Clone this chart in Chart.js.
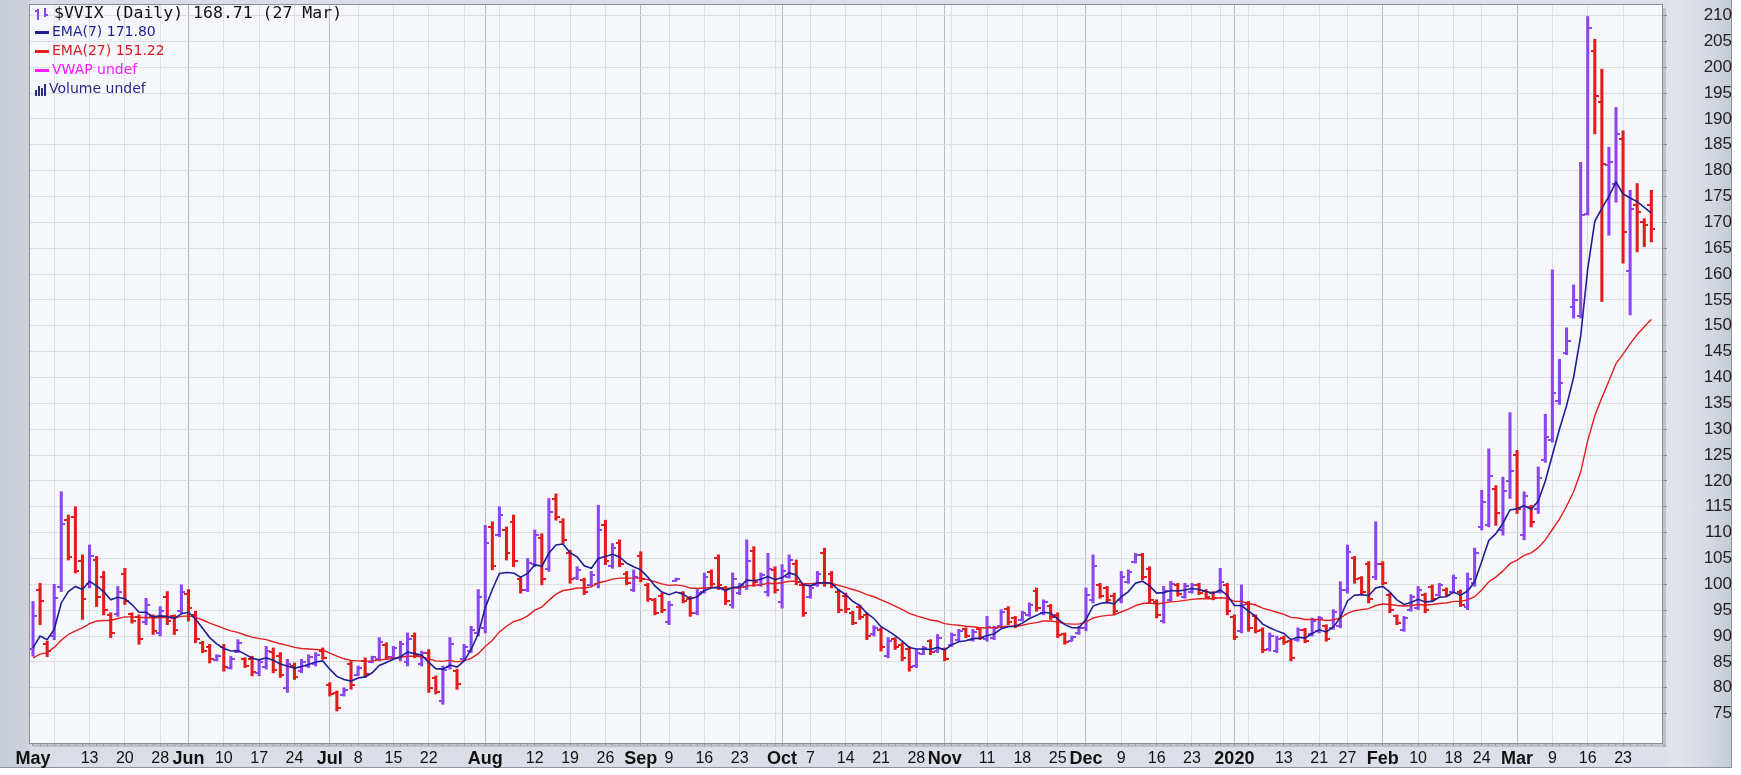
<!DOCTYPE html>
<html lang="en">
<head>
  <meta charset="UTF-8">
  <title>$VVIX (Daily)</title>
  <script src="https://cdn.jsdelivr.net/npm/chart.js"></script>
  <style>
    html, body { margin: 0; padding: 0; background: #fff; overflow: hidden; }
    #frame {
      position: absolute; left: 0; top: 0; width: 1731px; height: 767px;
      background: linear-gradient(to right, #c8ccd6 0, #cdd1db 29px, #dadde5 31px, #dde0e8 1662px, #e2e5ec 1675px, #d4d8e1 1710px, #c6cad4 1731px);
      border-right: 1px solid #8d929c; border-bottom: 1px solid #8d929c;
    }
    #wrap { position: absolute; left: 0; top: 0; width: 1741px; height: 775px; }
    #legend { position: absolute; left: 35px; top: 3px; font-family: "DejaVu Sans", sans-serif; font-size: 14px; }
    #legend .row { height: 19px; line-height: 19px; white-space: nowrap; }
    #legend .title { font-family: "DejaVu Sans Mono", monospace; font-size: 16.5px; color: #111; }
    .dash { display: inline-block; width: 14px; height: 3px; vertical-align: middle; margin-right: 3px; }
    .ico { display: inline-block; width: 15px; height: 13px; vertical-align: middle; margin-right: 4px; position: relative; }
    .ico i { position: absolute; bottom: 0; width: 2px; }
  </style>
</head>
<body>
  <div id="frame"></div>
  <div id="wrap"><canvas id="vvixChart"></canvas></div>
  <div id="legend">
    <div class="row title"><span class="ico"><i style="left:2px;height:11px;background:#8b46f2"></i><i style="left:0;width:3px;height:2px;bottom:8px;background:#8b46f2"></i><i style="left:9px;height:9px;bottom:3px;background:#8b46f2"></i><i style="left:10px;width:3px;height:2px;bottom:4px;background:#8b46f2"></i></span><span id="lg0"></span></div>
    <div class="row" style="color:#1f1f94"><span class="dash" style="background:#1f1f94"></span><span id="lg1"></span></div>
    <div class="row" style="color:#d81b1b"><span class="dash" style="background:#e01f1f"></span><span id="lg2"></span></div>
    <div class="row" style="color:#ff1cff"><span class="dash" style="background:#ff1cff"></span><span>VWAP undef</span></div>
    <div class="row" style="color:#2b2b86"><span class="ico" style="width:12px;margin-right:2px"><i style="left:0;height:6px;background:#2b2b86"></i><i style="left:3px;height:10px;background:#2b2b86"></i><i style="left:6px;height:8px;background:#2b2b86"></i><i style="left:9px;height:12px;background:#2b2b86"></i></span><span>Volume undef</span></div>
  </div>

  <script>
    // daily bars, 1 May 2019 .. 27 Mar 2020 (index = trading day)
    const lastDate = '27 Mar';

    const opens = [
      87.5, 99.0, 88.5, 90.0, 99.5, 112.5, 113.0, 104.5, 100.0, 104.8,
      101.5, 94.0, 94.2, 102.0, 94.2, 93.6, 92.8, 93.8, 90.5, 97.5,
      93.8, 94.8, 98.2, 94.0, 88.7, 87.8, 85.4, 87.9, 83.9, 87.0,
      85.5, 85.6, 82.8, 84.0, 87.0, 86.2, 80.0, 84.2, 83.2, 84.3,
      84.6, 87.2, 80.6, 79.0, 78.6, 84.5, 82.5, 85.2, 85.0, 85.6,
      88.2, 86.0, 85.8, 85.0, 90.0, 84.5, 86.8, 81.8, 77.5, 84.0,
      83.2, 85.6, 87.2, 90.5, 91.5, 111.0, 109.6, 110.5, 112.0, 101.0,
      99.0, 104.0, 109.0, 103.0, 116.5, 112.0, 106.0, 101.2, 100.8, 99.8,
      100.0, 111.5, 103.5, 108.0, 102.0, 99.0, 105.5, 99.8, 97.0, 97.8,
      92.8, 100.7, 98.3, 97.2, 94.5, 98.6, 102.4, 105.0, 99.2, 96.0,
      98.3, 99.5, 106.5, 99.9, 98.5, 102.8, 96.5, 101.5, 104.0, 99.8,
      97.6, 99.8, 106.0, 102.0, 98.5, 97.8, 94.5, 95.6, 94.0, 90.3,
      91.2, 86.2, 89.4, 88.3, 87.5, 84.2, 86.6, 89.0, 87.2, 87.4,
      88.3, 89.3, 91.3, 89.3, 91.3, 89.5, 89.6, 92.0, 95.3, 93.5,
      93.1, 94.1, 98.8, 94.4, 95.8, 94.0, 90.3, 89.1, 90.5, 91.5,
      97.0, 99.8, 99.2, 97.8, 97.0, 100.5, 104.3, 105.6, 103.0, 96.6,
      93.0, 97.0, 99.9, 97.6, 98.5, 99.9, 98.7, 98.3, 98.6, 99.8,
      93.6, 91.0, 96.2, 93.8, 91.2, 87.4, 87.1, 89.7, 89.0, 89.3,
      91.2, 90.3, 90.9, 91.9, 91.6, 92.0, 99.0, 105.0, 101.2, 103.9,
      101.5, 104.0, 98.0, 93.9, 91.2, 95.1, 95.5, 98.0, 99.5, 98.0,
      99.0, 98.6, 98.5, 95.6, 100.2, 111.0, 111.5, 118.5, 110.5, 120.0,
      125.0, 109.5, 115.0, 114.5, 124.0, 128.0, 135.5, 144.8, 153.7, 151.8,
      171.6, 203.1, 193.2, 181.0, 177.5, 186.1, 160.5, 173.3, 170.1, 173.3
    ];

    const highs = [
      96.7, 100.2, 89.0, 100.0, 117.9, 113.4, 115.0, 105.7, 107.6, 105.4,
      102.5, 94.5, 99.6, 103.1, 94.5, 94.1, 97.3, 94.1, 95.7, 98.6,
      94.1, 99.9, 99.0, 94.8, 89.0, 88.4, 86.4, 88.4, 86.1, 89.3,
      85.8, 86.1, 85.5, 88.0, 87.7, 86.8, 85.5, 84.8, 85.5, 86.4,
      86.8, 87.7, 81.0, 79.4, 80.0, 85.2, 84.2, 85.8, 86.1, 89.7,
      88.7, 88.0, 89.0, 90.6, 90.6, 87.1, 87.4, 82.3, 84.2, 89.7,
      83.6, 88.4, 91.9, 99.0, 111.4, 112.1, 115.0, 111.1, 113.4, 101.5,
      105.0, 110.5, 109.8, 116.6, 117.5, 112.7, 106.6, 103.4, 101.2, 102.5,
      115.3, 112.4, 107.9, 108.6, 102.5, 102.8, 106.3, 100.2, 97.3, 98.3,
      96.7, 101.2, 98.6, 97.7, 99.0, 102.2, 102.8, 105.7, 99.6, 102.2,
      100.2, 108.6, 107.3, 102.2, 106.0, 103.4, 103.8, 105.7, 104.7, 100.2,
      99.6, 102.5, 107.0, 102.5, 99.0, 98.3, 94.8, 96.0, 94.5, 92.0,
      91.6, 89.7, 89.7, 88.7, 88.0, 87.4, 88.0, 89.3, 90.3, 87.7,
      90.6, 91.3, 91.6, 91.3, 91.6, 93.8, 91.9, 95.1, 95.7, 93.8,
      94.8, 96.4, 99.3, 97.0, 96.1, 94.5, 90.6, 90.0, 91.9, 99.3,
      105.7, 100.2, 99.6, 98.3, 102.5, 102.8, 106.0, 106.0, 103.4, 97.0,
      99.6, 100.6, 100.2, 100.2, 100.2, 100.2, 99.0, 98.6, 103.1, 100.2,
      94.1, 99.9, 96.7, 94.1, 91.6, 90.6, 90.0, 90.0, 89.3, 91.6,
      91.5, 93.5, 93.8, 92.2, 95.1, 100.5, 107.6, 105.4, 101.5, 104.4,
      112.1, 104.4, 98.3, 94.1, 93.8, 98.0, 99.6, 98.3, 99.9, 100.2,
      99.3, 101.8, 98.9, 102.2, 107.0, 118.2, 126.2, 119.1, 120.7, 133.2,
      125.9, 117.9, 115.3, 122.7, 132.9, 160.8, 143.5, 149.6, 157.9, 181.6,
      209.8, 205.4, 199.6, 184.5, 192.2, 187.7, 176.2, 177.5, 170.7, 176.2
    ];

    const lows = [
      86.1, 92.2, 86.0, 89.3, 98.6, 104.7, 102.2, 93.2, 99.3, 95.7,
      94.1, 89.7, 93.8, 96.1, 92.5, 88.4, 92.2, 90.3, 90.0, 92.2,
      90.3, 94.5, 92.9, 88.7, 86.8, 84.8, 85.2, 83.2, 83.6, 86.8,
      83.9, 82.3, 82.3, 83.6, 82.9, 82.0, 79.1, 81.6, 82.9, 83.9,
      84.2, 85.5, 78.4, 75.5, 78.4, 79.7, 82.3, 82.0, 84.8, 85.2,
      85.5, 85.8, 85.2, 84.2, 85.8, 84.2, 79.1, 78.8, 76.8, 83.6,
      79.7, 85.2, 86.8, 90.0, 90.6, 102.8, 109.2, 104.7, 103.4, 98.3,
      98.6, 103.4, 99.9, 102.5, 112.4, 107.9, 100.2, 100.9, 98.0, 99.6,
      99.3, 103.8, 103.1, 103.4, 99.9, 98.6, 100.5, 96.7, 94.1, 94.5,
      92.2, 100.6, 96.4, 93.8, 94.1, 98.3, 99.6, 99.0, 96.1, 95.4,
      98.0, 99.0, 99.6, 99.6, 97.7, 98.3, 95.4, 101.2, 99.9, 93.8,
      97.3, 99.6, 99.6, 99.3, 94.5, 94.5, 92.2, 93.2, 89.3, 90.0,
      87.1, 85.8, 87.4, 85.2, 83.2, 83.9, 86.4, 86.4, 86.8, 85.2,
      88.0, 89.0, 89.7, 89.0, 89.3, 89.0, 89.3, 91.6, 92.2, 91.6,
      92.9, 93.8, 94.8, 94.1, 93.2, 89.7, 88.4, 89.0, 90.3, 91.0,
      96.4, 97.3, 96.4, 94.1, 96.4, 100.2, 104.1, 100.9, 96.4, 93.5,
      92.5, 96.7, 97.7, 97.3, 98.3, 98.0, 97.3, 97.0, 98.3, 94.1,
      89.3, 90.6, 90.9, 90.6, 86.8, 87.1, 86.8, 88.4, 85.2, 89.0,
      88.7, 90.0, 90.6, 89.0, 91.3, 91.6, 98.3, 100.2, 98.0, 96.4,
      100.9, 99.9, 94.5, 92.2, 90.9, 94.8, 95.1, 94.5, 96.7, 97.7,
      97.7, 98.3, 95.7, 95.1, 99.6, 110.5, 111.1, 111.4, 109.5, 116.6,
      113.7, 108.6, 111.1, 113.7, 123.6, 127.5, 134.8, 144.4, 151.5, 151.5,
      171.4, 187.1, 154.7, 167.5, 173.9, 162.1, 152.1, 164.3, 165.3, 166.2
    ];

    const closes = [
      93.8, 96.8, 87.2, 97.3, 111.7, 105.2, 102.6, 97.2, 105.4, 97.5,
      95.0, 90.5, 98.5, 96.8, 93.0, 89.5, 96.0, 91.0, 94.8, 93.0,
      91.2, 98.5, 95.5, 89.5, 87.2, 85.5, 86.1, 84.0, 85.6, 88.6,
      84.2, 83.0, 84.9, 87.2, 83.5, 82.5, 84.5, 82.0, 85.0, 85.9,
      86.3, 85.8, 78.8, 76.0, 79.6, 80.5, 83.8, 82.6, 85.9, 88.8,
      86.0, 87.6, 88.4, 89.5, 86.4, 86.8, 80.0, 79.2, 83.5, 88.5,
      80.8, 87.8, 91.2, 97.5, 108.0, 103.5, 113.5, 106.0, 104.5, 99.0,
      104.2, 109.5, 101.0, 114.0, 113.0, 108.5, 101.0, 102.8, 98.5, 101.8,
      110.5, 104.5, 107.0, 104.0, 100.3, 101.5, 101.0, 97.2, 94.5, 95.0,
      96.0, 101.1, 96.8, 94.5, 98.3, 101.5, 100.0, 99.8, 96.8, 101.0,
      99.8, 104.5, 100.5, 101.8, 103.0, 99.0, 102.5, 104.8, 100.5, 94.5,
      99.2, 102.0, 100.2, 99.8, 95.0, 95.2, 92.6, 93.6, 90.0, 91.6,
      87.8, 89.0, 87.8, 85.8, 84.0, 86.8, 87.6, 86.9, 89.6, 85.6,
      90.2, 90.9, 90.0, 90.8, 89.7, 91.8, 91.5, 94.6, 92.8, 92.0,
      94.5, 96.0, 95.5, 96.6, 93.6, 90.2, 88.8, 89.8, 91.6, 98.0,
      103.5, 97.8, 97.0, 94.8, 101.5, 102.3, 105.6, 101.5, 97.0, 94.0,
      98.8, 100.0, 98.2, 99.7, 99.9, 98.4, 97.6, 97.3, 100.5, 94.8,
      89.8, 96.0, 91.5, 91.0, 87.3, 90.0, 89.4, 88.8, 85.8, 91.2,
      89.0, 93.0, 93.4, 89.5, 94.6, 99.0, 106.2, 101.0, 98.5, 97.2,
      104.0, 100.3, 95.0, 92.6, 93.5, 97.6, 99.0, 95.0, 97.1, 99.8,
      98.0, 101.2, 96.1, 101.0, 106.0, 116.0, 121.0, 113.7, 118.0, 122.0,
      114.5, 117.0, 112.0, 120.5, 128.5, 137.0, 139.0, 147.0, 155.0, 171.4,
      207.6, 194.5, 181.3, 181.6, 187.1, 168.2, 172.5, 171.9, 169.5, 168.71
    ];

    const ema7 = [
      87.7, 90.0, 89.3, 91.3, 96.4, 98.6, 99.6, 99.0, 100.6, 99.7,
      98.6, 97.0, 97.5, 97.2, 96.1, 94.6, 94.6, 93.7, 93.9, 93.8,
      93.4, 94.3, 94.6, 93.3, 91.5, 89.7, 88.5, 87.6, 87.1, 87.2,
      86.5, 85.7, 85.4, 85.8, 85.3, 84.6, 84.2, 83.8, 84.1, 84.5,
      85.0, 85.2, 83.6, 82.2, 81.6, 81.3, 81.9, 82.1, 82.9, 84.3,
      84.9, 85.5, 86.0, 86.9, 86.6, 86.3, 84.9, 83.7, 83.6, 84.4,
      84.0, 85.2, 87.4, 90.4, 95.5, 99.0, 102.1, 102.3, 102.2, 101.4,
      102.1, 103.8, 103.5, 106.0, 107.6, 107.8, 106.1, 105.3, 103.6, 103.1,
      105.0, 105.4, 105.8, 105.3, 104.1, 103.4, 102.8, 101.4, 99.7, 98.5,
      98.0, 98.5, 98.1, 97.2, 97.6, 98.8, 99.3, 99.4, 98.8, 99.4,
      99.5, 100.8, 100.7, 101.0, 101.5, 100.9, 101.3, 102.2, 101.8, 99.9,
      99.7, 100.3, 100.3, 100.2, 98.9, 98.0, 96.7, 95.9, 94.4, 93.4,
      91.8, 91.0, 90.1, 89.0, 87.8, 87.5, 87.5, 87.4, 87.8, 87.3,
      88.3, 88.9, 89.1, 89.5, 89.6, 90.1, 90.4, 91.4, 91.8, 91.9,
      92.5, 93.4, 94.0, 94.6, 94.4, 93.3, 92.2, 91.6, 91.6, 93.2,
      95.8, 96.3, 96.5, 96.2, 97.6, 98.6, 100.2, 100.6, 99.7, 98.3,
      98.4, 98.8, 98.7, 98.9, 99.2, 99.0, 98.6, 98.3, 98.9, 97.9,
      95.9, 95.9, 94.8, 93.8, 92.3, 91.6, 91.0, 90.5, 89.3, 89.8,
      89.6, 90.5, 91.2, 90.8, 91.7, 93.6, 96.8, 97.9, 98.0, 97.8,
      99.3, 99.6, 98.5, 97.0, 96.1, 96.5, 97.1, 96.6, 96.7, 97.5,
      97.6, 98.5, 97.9, 98.7, 100.5, 104.4, 108.5, 109.8, 111.8, 114.4,
      114.6, 115.2, 114.5, 116.1, 120.0, 125.0, 130.0, 134.5, 140.0, 148.0,
      161.0, 170.2, 172.7, 175.0, 177.8, 175.5, 174.7, 174.0, 172.9, 171.8
    ];

    const ema27 = [
      85.8, 86.5, 86.8, 87.8, 89.2, 90.3, 91.0, 91.6, 92.4, 92.9,
      93.0, 93.0, 93.4, 93.7, 93.7, 93.6, 93.6, 93.5, 93.6, 93.6,
      93.5, 93.8, 93.9, 93.6, 93.1, 92.5, 92.0, 91.5, 91.0, 90.7,
      90.2, 89.8, 89.5, 89.3, 88.9, 88.5, 88.2, 87.8, 87.6, 87.5,
      87.4, 87.3, 86.7, 86.1, 85.6, 85.3, 85.2, 85.1, 85.2, 85.4,
      85.5, 85.7, 85.9, 86.1, 86.1, 86.0, 85.6, 85.2, 85.1, 85.3,
      85.0, 85.2, 85.7, 86.6, 88.0, 89.2, 90.8, 91.9, 92.8, 93.2,
      93.9, 95.0, 95.6, 96.9, 98.1, 98.8, 99.0, 99.3, 99.3, 99.5,
      100.3, 100.6, 101.0, 101.2, 101.2, 101.2, 101.2, 100.9, 100.5, 100.1,
      99.8, 99.9, 99.7, 99.3, 99.2, 99.3, 99.4, 99.4, 99.2, 99.3,
      99.3, 99.7, 99.8, 99.9, 100.2, 100.1, 100.3, 100.6, 100.6, 100.1,
      100.1, 100.2, 100.2, 100.2, 99.8, 99.4, 99.0, 98.6, 98.0, 97.6,
      97.0, 96.4, 95.8, 95.1, 94.4, 93.9, 93.5, 93.1, 92.9, 92.4,
      92.2, 92.1, 91.9, 91.8, 91.6, 91.6, 91.6, 91.8, 91.9, 91.9,
      92.1, 92.4, 92.6, 92.9, 92.9, 92.7, 92.4, 92.3, 92.3, 92.7,
      93.5, 93.8, 94.0, 94.1, 94.7, 95.2, 95.9, 96.3, 96.4, 96.2,
      96.4, 96.6, 96.7, 96.9, 97.1, 97.2, 97.2, 97.2, 97.4, 97.3,
      96.7, 96.7, 96.3, 96.0, 95.4, 95.0, 94.6, 94.2, 93.6, 93.5,
      93.2, 93.2, 93.2, 93.0, 93.1, 93.5, 94.4, 94.9, 95.1, 95.3,
      95.9, 96.2, 96.1, 95.9, 95.8, 95.9, 96.1, 96.0, 96.1, 96.3,
      96.4, 96.7, 96.7, 97.0, 97.6, 98.9, 100.5, 101.4, 102.6, 104.0,
      104.7, 105.6, 106.1, 107.1, 108.6, 110.6, 112.6, 115.1, 117.9, 121.7,
      127.8, 132.6, 136.1, 139.3, 142.7, 144.5, 146.5, 148.3, 149.8, 151.22
    ];

    // x axis: labelled days, plain weekly grid lines, month starts
    const xLabelIdx = [0, 8, 13, 18, 22, 27, 32, 37, 42, 46, 51, 56, 64, 71, 76, 81, 86, 90, 95, 100,
                       106, 110, 115, 120, 125, 129, 135, 140, 145, 149, 154, 159, 164, 170, 177, 182, 186,
                       191, 196, 201, 205, 210, 215, 220, 225];
    const xLabelText = ['May', '13', '20', '28', 'Jun', '10', '17', '24', 'Jul', '8', '15', '22', 'Aug', '12', '19', '26', 'Sep', '9', '16', '23',
                        'Oct', '7', '14', '21', '28', 'Nov', '11', '18', '25', 'Dec', '9', '16', '23', '2020', '13', '21', '27',
                        'Feb', '10', '18', '24', 'Mar', '9', '16', '23'];
    const xGridOnly = [3, 61, 66, 105, 130, 168, 172];
    const monthIdx = [0, 22, 42, 64, 86, 106, 129, 149, 170, 191, 210];
    const yTicks = [75, 80, 85, 90, 95, 100, 105, 110, 115, 120, 125, 130, 135, 140, 145, 150,
                    155, 160, 165, 170, 175, 180, 185, 190, 195, 200, 205, 210];

    const UP = '#8b46f2', DOWN = '#e31c1c';
    const isUp = i => closes[i] >= opens[i];

    function tickImg(color, open) {
      const c = document.createElement('canvas');
      c.width = 8; c.height = 2;
      const g = c.getContext('2d');
      g.fillStyle = color;
      g.fillRect(open ? 0 : 4, 0, 4, 2);
      return c;
    }
    const openUp = tickImg(UP, true), openDn = tickImg(DOWN, true);
    const closeUp = tickImg(UP, false), closeDn = tickImg(DOWN, false);

    const allTicks = xLabelIdx.concat(xGridOnly).sort((a, b) => a - b);
    const labelOf = {};
    xLabelIdx.forEach((v, k) => labelOf[v] = xLabelText[k]);

    const last = closes.length - 1;
    document.getElementById('lg0').textContent = `$VVIX (Daily) ${closes[last].toFixed(2)} (${lastDate})`;
    document.getElementById('lg1').textContent = `EMA(7) ${ema7[last].toFixed(2)}`;
    document.getElementById('lg2').textContent = `EMA(27) ${ema27[last].toFixed(2)}`;

    const plotBox = {
      id: 'plotBox',
      beforeDraw(chart) {
        const { ctx, chartArea: a } = chart;
        ctx.save();
        ctx.fillStyle = 'rgba(80,86,100,0.22)';
        ctx.fillRect(a.right + 1, a.top + 3, 3, a.height + 1);
        ctx.fillRect(a.left + 3, a.bottom + 1, a.width + 1, 3);
        ctx.fillStyle = '#f5f7fb';
        ctx.fillRect(a.left, a.top, a.width, a.height);
        ctx.restore();
      },
      afterDraw(chart) {
        const { ctx, chartArea: a } = chart;
        ctx.save();
        ctx.strokeStyle = '#8a8d94';
        ctx.lineWidth = 1;
        ctx.strokeRect(a.left - 0.5, a.top - 0.5, a.width + 1, a.height + 1);
        ctx.restore();
      }
    };

    const fam = '"Liberation Sans", Arial, sans-serif';
    Chart.defaults.font.family = fam;
    const xMin = -0.4245, xMax = 230.51;

    new Chart(document.getElementById('vvixChart'), {
      type: 'bar',
      data: {
        datasets: [
          {
            type: 'line',
            label: 'EMA(7)',
            data: ema7.map((v, i) => ({ x: i, y: v })),
            borderColor: '#1f1f94',
            borderWidth: 1.6,
            pointRadius: 0,
            tension: 0,
            order: 0
          },
          {
            type: 'line',
            label: 'EMA(27)',
            data: ema27.map((v, i) => ({ x: i, y: v })),
            borderColor: '#e01f1f',
            borderWidth: 1.4,
            pointRadius: 0,
            tension: 0,
            order: 1
          },
          {
            type: 'line',
            label: 'Open',
            data: opens.map((v, i) => ({ x: i, y: v })),
            showLine: false,
            pointRadius: 2,
            pointStyle: c => isUp(c.dataIndex) ? openUp : openDn,
            order: 2
          },
          {
            type: 'line',
            label: 'Close',
            data: closes.map((v, i) => ({ x: i, y: v })),
            showLine: false,
            pointRadius: 2,
            pointStyle: c => isUp(c.dataIndex) ? closeUp : closeDn,
            order: 2
          },
          {
            type: 'bar',
            label: '$VVIX',
            data: highs.map((h, i) => ({ x: i, y: [lows[i], h] })),
            backgroundColor: c => isUp(c.dataIndex) ? UP : DOWN,
            barThickness: 2.4,
            order: 3
          }
        ]
      },
      options: {
        responsive: true,
        maintainAspectRatio: false,
        animation: false,
        events: [],
        layout: { padding: { left: 30, top: 1, right: 9, bottom: 0 } },
        plugins: {
          legend: { display: false },
          tooltip: { enabled: false }
        },
        scales: {
          x: {
            type: 'linear',
            min: xMin,
            max: xMax,
            offset: false,
            weight: 1,
            afterFit: s => { s.height = 28; },
            afterBuildTicks: s => { s.ticks = allTicks.map(v => ({ value: v })); },
            border: { display: false },
            grid: {
              offset: false,
              drawTicks: false,
              color: c => {
                const v = c.tick ? c.tick.value : -1;
                if (v === 0) return 'rgba(0,0,0,0)';
                return monthIdx.includes(v) ? '#b7bbc4' : '#dcdfe6';
              }
            },
            ticks: {
              autoSkip: false,
              maxRotation: 0,
              padding: 2.5,
              color: '#111',
              callback: v => labelOf[v] || '',
              font: c => (c.tick && monthIdx.includes(c.tick.value))
                ? { family: fam, size: 18, weight: 'bold', lineHeight: '19px' }
                : { family: fam, size: 16, lineHeight: '19px' }
            }
          },
          days: {
            type: 'linear',
            position: 'bottom',
            min: xMin,
            max: xMax,
            offset: false,
            weight: 0,
            afterFit: s => { s.height = 4; },
            afterBuildTicks: s => { s.ticks = closes.map((_, i) => ({ value: i })); },
            border: { display: false },
            grid: { drawOnChartArea: false, drawTicks: true, tickLength: 3, color: '#9a9da4', offset: false },
            ticks: { display: false }
          },
          y: {
            position: 'right',
            min: 69.32,
            max: 212.02,
            afterFit: s => { s.width = 70; },
            afterBuildTicks: s => { s.ticks = yTicks.map(v => ({ value: v })); },
            border: { display: false },
            grid: { color: '#dcdfe6', tickColor: '#8a8d94', tickLength: 5 },
            ticks: {
              crossAlign: 'far',
              padding: 2,
              color: '#222',
              font: { family: fam, size: 17, lineHeight: 0.1 }
            }
          }
        }
      },
      plugins: [plotBox]
    });
  </script>
</body>
</html>
